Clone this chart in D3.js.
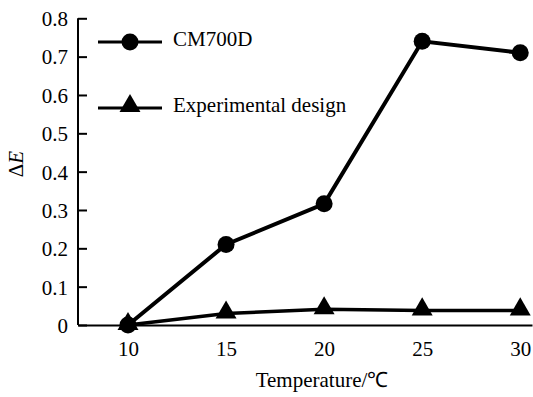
<!DOCTYPE html>
<html>
<head>
<meta charset="utf-8">
<script src="https://cdn.jsdelivr.net/npm/d3@7"></script>
<style>
  body { margin: 0; background: #fff; }
</style>
</head>
<body>
<div id="chart"></div>
<script>
// chart values
const temperatures = [10, 15, 20, 25, 30];
const cm700d = [0, 0.21, 0.316, 0.74, 0.71];
const experimental = [0, 0.03, 0.041, 0.038, 0.038];
const yTicks = [0, 0.1, 0.2, 0.3, 0.4, 0.5, 0.6, 0.7, 0.8];
const seriesNames = ["CM700D", "Experimental design"];

const FONT = "'Liberation Serif', 'Times New Roman', Times, serif";
const W = 533, H = 397;
const svg = d3.select("#chart").append("svg")
    .attr("width", W).attr("height", H)
    .style("font-family", FONT);

const x = d3.scaleLinear().domain([7.45, 30.6]).range([78, 532]);
const y = d3.scaleLinear().domain([0, 0.8]).range([325, 18.3]);

// y axis, ticks pointing inward
const yAxis = svg.append("g")
    .attr("transform", "translate(78,0)")
    .call(d3.axisRight(y).tickValues(yTicks).tickSize(9)
        .tickFormat(d => d === 0 ? "0" : d3.format(".1f")(d)));
yAxis.attr("font-family", null).attr("font-size", null);
yAxis.select(".domain").attr("stroke", "#000").attr("stroke-width", 2)
    .attr("d", `M0,${y(0.8)}V${y(0)}`);
yAxis.selectAll(".tick line").attr("stroke", "#000").attr("stroke-width", 2);
yAxis.selectAll(".tick text")
    .attr("x", -10).attr("dy", "0.35em")
    .style("text-anchor", "end")
    .style("font-family", FONT)
    .style("font-size", "21px");

// x axis, no tick marks
const xAxis = svg.append("g")
    .attr("transform", `translate(0,${y(0)})`)
    .call(d3.axisBottom(x).tickValues(temperatures).tickSize(0).tickPadding(16));
xAxis.attr("font-family", null).attr("font-size", null);
xAxis.select(".domain").attr("stroke", "#000").attr("stroke-width", 2);
xAxis.selectAll(".tick text")
    .style("font-family", FONT)
    .style("font-size", "21px");

// axis titles
svg.append("text")
    .attr("transform", "translate(23,164) rotate(-90)")
    .style("text-anchor", "middle")
    .style("font-family", FONT)
    .style("font-size", "21px")
    .call(t => {
        t.append("tspan").text("Δ");
        t.append("tspan").style("font-style", "italic").text("E");
    });

svg.append("text")
    .attr("x", 322).attr("y", 387)
    .style("text-anchor", "middle")
    .style("font-family", FONT)
    .style("font-size", "21px")
    .text("Temperature/℃");

const line = d3.line()
    .x((d, i) => x(temperatures[i]))
    .y(d => y(d));

const tri = d3.symbol().type(d3.symbolTriangle).size(190);

// experimental design series
svg.append("path")
    .datum(experimental)
    .attr("fill", "none").attr("stroke", "#000").attr("stroke-width", 3.5)
    .attr("d", line);
svg.selectAll(".tri")
    .data(experimental)
    .enter().append("path")
    .attr("class", "tri")
    .attr("d", tri)
    .attr("transform", (d, i) => `translate(${x(temperatures[i])},${y(d) - 1})`);

// CM700D series
svg.append("path")
    .datum(cm700d)
    .attr("fill", "none").attr("stroke", "#000").attr("stroke-width", 4)
    .attr("d", line);
svg.selectAll(".dot")
    .data(cm700d)
    .enter().append("circle")
    .attr("class", "dot")
    .attr("cx", (d, i) => x(temperatures[i]))
    .attr("cy", d => y(d))
    .attr("r", 8.5);

// legend
const legend = svg.append("g");
const rows = [{ y: 42, shape: "circle" }, { y: 108, shape: "triangle" }];
rows.forEach((r, i) => {
    legend.append("line")
        .attr("x1", 98).attr("x2", 162)
        .attr("y1", r.y).attr("y2", r.y)
        .attr("stroke", "#000").attr("stroke-width", 3);
    if (r.shape === "circle") {
        legend.append("circle").attr("cx", 130).attr("cy", r.y).attr("r", 8.5);
    } else {
        legend.append("path").attr("d", tri)
            .attr("transform", `translate(130,${r.y - 2})`);
    }
    legend.append("text")
        .attr("x", 173).attr("y", r.y + 4)
        .style("font-family", FONT)
        .style("font-size", "21px")
        .text(seriesNames[i]);
});
</script>
</body>
</html>
